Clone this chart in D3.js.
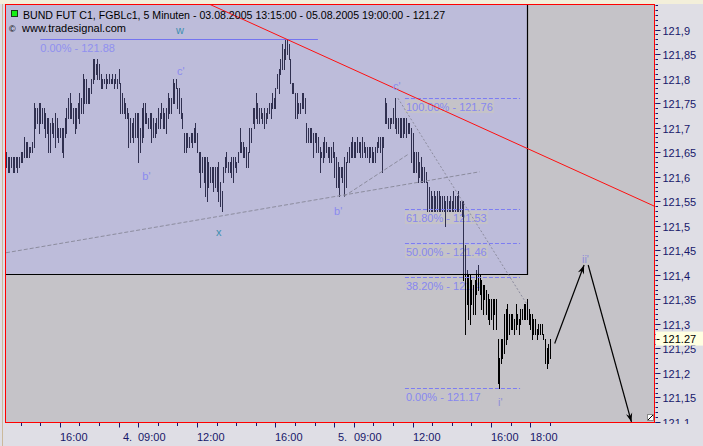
<!DOCTYPE html>
<html><head><meta charset="utf-8">
<script src="https://cdn.jsdelivr.net/npm/d3@7/dist/d3.min.js"></script>
<style>
html,body{margin:0;padding:0;background:#dfdee5;overflow:hidden;}
svg{display:block;font-family:"Liberation Sans",Arial,sans-serif;}
</style></head><body>
<svg id="c" width="703" height="446"></svg>
<script>
// ---- data: 5-minute bars, BUND FUT, 03.08.2005 13:15 - 05.08.2005 19:00 ----
const highs = [
121.65,121.64,121.64,121.64,121.64,121.64,121.64,121.64,121.64,121.65,
121.65,121.68,121.67,121.67,121.66,121.66,121.67,121.75,121.74,121.74,
121.75,121.75,121.74,121.74,121.73,121.72,121.72,121.71,121.72,121.71,
121.73,121.72,121.70,121.70,121.70,121.70,121.72,121.74,121.76,121.77,
121.75,121.74,121.74,121.74,121.75,121.77,121.76,121.81,121.80,121.80,
121.78,121.78,121.80,121.84,121.84,121.83,121.84,121.83,121.81,121.80,
121.80,121.81,121.80,121.81,121.80,121.81,121.80,121.81,121.80,121.82,
121.79,121.77,121.76,121.75,121.74,121.73,121.72,121.71,121.72,121.73,
121.73,121.73,121.70,121.74,121.75,121.75,121.73,121.72,121.73,121.73,
121.72,121.71,121.72,121.74,121.73,121.75,121.74,121.73,121.74,121.77,
121.76,121.76,121.80,121.79,121.80,121.78,121.78,121.76,121.73,121.69,
121.69,121.69,121.68,121.69,121.69,121.70,121.71,121.69,121.65,121.65,
121.64,121.64,121.64,121.64,121.63,121.62,121.62,121.62,121.62,121.62,
121.63,121.59,121.57,121.62,121.64,121.65,121.63,121.63,121.64,121.64,
121.64,121.63,121.65,121.70,121.67,121.67,121.66,121.66,121.65,121.70,
121.70,121.74,121.74,121.77,121.75,121.74,121.74,121.73,121.74,121.73,
121.74,121.75,121.75,121.77,121.76,121.78,121.81,121.82,121.84,121.87,
121.86,121.88,121.88,121.87,121.84,121.79,121.79,121.77,121.77,121.75,
121.75,121.77,121.77,121.76,121.71,121.70,121.70,121.70,121.69,121.69,
121.69,121.68,121.66,121.65,121.67,121.68,121.67,121.66,121.66,121.66,
121.67,121.65,121.64,121.63,121.62,121.62,121.62,121.64,121.63,121.65,
121.66,121.67,121.68,121.67,121.67,121.68,121.67,121.67,121.68,121.67,
121.66,121.66,121.66,121.66,121.66,121.65,121.66,121.67,121.68,121.68,
121.68,121.68,121.76,121.75,121.72,121.72,121.72,121.74,121.76,121.72,
121.72,121.72,121.72,121.72,121.72,121.72,121.71,121.71,121.70,121.69,
121.65,121.65,121.65,121.63,121.64,121.62,121.62,121.61,121.59,121.58,
121.57,121.56,121.57,121.56,121.57,121.57,121.56,121.56,121.56,121.55,
121.56,121.55,121.56,121.55,121.57,121.56,121.56,121.57,121.55,121.55,
121.55,121.46,121.41,121.40,121.40,121.39,121.38,121.39,121.41,121.42,
121.40,121.39,121.38,121.38,121.37,121.36,121.35,121.35,121.35,121.35,
121.35,121.27,121.23,121.27,121.27,121.32,121.33,121.34,121.32,121.32,
121.32,121.31,121.34,121.32,121.31,121.33,121.33,121.34,121.34,121.35,
121.33,121.32,121.32,121.31,121.31,121.29,121.30,121.30,121.30,121.28,
121.27,121.25,121.26,121.27];
const lows = [
121.62,121.61,121.61,121.62,121.61,121.61,121.62,121.61,121.62,121.63,
121.63,121.64,121.64,121.64,121.64,121.65,121.65,121.66,121.70,121.71,
121.69,121.71,121.71,121.70,121.68,121.69,121.65,121.65,121.69,121.68,
121.66,121.68,121.67,121.68,121.65,121.64,121.68,121.69,121.72,121.72,
121.72,121.71,121.69,121.70,121.72,121.71,121.73,121.73,121.75,121.75,
121.75,121.75,121.77,121.79,121.80,121.81,121.80,121.80,121.78,121.78,
121.79,121.78,121.79,121.79,121.79,121.79,121.78,121.79,121.78,121.79,
121.73,121.73,121.73,121.72,121.72,121.66,121.67,121.68,121.67,121.68,
121.68,121.63,121.65,121.67,121.68,121.71,121.71,121.70,121.70,121.67,
121.68,121.68,121.69,121.70,121.70,121.72,121.70,121.70,121.69,121.72,
121.73,121.73,121.75,121.75,121.78,121.74,121.73,121.72,121.70,121.65,
121.65,121.66,121.66,121.67,121.66,121.67,121.67,121.65,121.61,121.58,
121.61,121.59,121.56,121.55,121.58,121.59,121.59,121.57,121.58,121.57,
121.55,121.54,121.53,121.59,121.61,121.62,121.61,121.61,121.60,121.59,
121.62,121.61,121.63,121.65,121.65,121.64,121.64,121.62,121.62,121.65,
121.67,121.71,121.70,121.72,121.71,121.71,121.72,121.71,121.70,121.71,
121.72,121.73,121.72,121.74,121.74,121.74,121.78,121.77,121.81,121.82,
121.82,121.84,121.85,121.84,121.79,121.77,121.77,121.72,121.72,121.73,
121.73,121.74,121.74,121.73,121.67,121.67,121.67,121.67,121.64,121.67,
121.65,121.65,121.61,121.64,121.63,121.64,121.65,121.64,121.63,121.63,
121.64,121.60,121.58,121.58,121.56,121.60,121.59,121.56,121.58,121.63,
121.63,121.64,121.64,121.64,121.64,121.65,121.65,121.64,121.64,121.65,
121.64,121.64,121.63,121.64,121.63,121.63,121.63,121.65,121.66,121.65,
121.61,121.66,121.71,121.71,121.70,121.70,121.71,121.71,121.70,121.69,
121.69,121.68,121.68,121.68,121.69,121.68,121.69,121.69,121.63,121.61,
121.61,121.61,121.59,121.60,121.59,121.59,121.59,121.59,121.53,121.53,
121.53,121.53,121.53,121.53,121.53,121.53,121.53,121.53,121.53,121.50,
121.53,121.53,121.53,121.53,121.53,121.53,121.53,121.53,121.53,121.52,
121.39,121.28,121.34,121.31,121.30,121.34,121.32,121.32,121.36,121.37,
121.36,121.33,121.32,121.35,121.32,121.31,121.30,121.31,121.29,121.32,
121.29,121.18,121.17,121.22,121.23,121.24,121.26,121.27,121.28,121.29,
121.29,121.28,121.29,121.30,121.28,121.30,121.31,121.31,121.31,121.31,
121.30,121.29,121.27,121.28,121.28,121.27,121.28,121.28,121.28,121.27,
121.22,121.21,121.22,121.23];

const titleText = "BUND FUT C1, FGBLc1, 5 Minuten - 03.08.2005 13:15:00 - 05.08.2005 19:00:00 - 121.27";
const copyrightText = "www.tradesignal.com";
const lastPrice = 121.27;
const lastPriceLabel = "121.27";

// trading sessions (hours), bar index where each session starts
const sessionDays  = ["3.", "4.", "5."];
const sessionStart = [13.25, 8, 8];
const sessionEnd   = [19, 19, 19];
const sessionIdx0  = [0, 69, 201];
// labelled time ticks: session, hour, label
const timeTickSession = [0, 1, 1, 1, 2, 2, 2, 2];
const timeTickHour    = [16, 9, 12, 16, 9, 12, 16, 18];
const timeTickLabel   = ["16:00","09:00","12:00","16:00","09:00","12:00","16:00","18:00"];

const yTickValues = [121.1,121.15,121.2,121.25,121.3,121.35,121.4,121.45,121.5,121.55,121.6,121.65,121.7,121.75,121.8,121.85,121.9];
const yTickLabels = ["121,1","121,15","121,2","121,25","121,3","121,35","121,4","121,45","121,5","121,55","121,6","121,65","121,7","121,75","121,8","121,85","121,9"];

// Fibonacci retracement c' -> i'
const fibHigh = 121.76, fibLow = 121.17;
const fibRatios = [1, 0.618, 0.5, 0.382, 0];
const fibLabels = ["100.00% - 121.76","61.80% - 121.53","50.00% - 121.46","38.20% - 121.4","0.00% - 121.17"];
const fibFrom = 244.3, fibTo = 314.8;
const wLevel = 121.88, wLevelLabel = "0.00% - 121.88", wFrom = 21, wTo = 191;

// drawing objects (bar index, price)
const highlightBox = {i0: -0.6, i1: 319, p0: 121.402, p1: 121.95};
const redTrendI = [172, 397], redTrendP = [121.88, 121.54];
const grayTrend1I = [0, 290],   grayTrend1P = [121.445, 121.61];
const grayTrend2I = [207, 246], grayTrend2P = [121.56, 121.645];
const grayTrend3I = [240, 319], grayTrend3P = [121.76, 121.34];
const arrowUpI = [336, 354],     arrowUpP = [121.26, 121.42];
const arrowDownI = [356.5, 383], arrowDownP = [121.42, 121.10];

const waveText  = ["w","c'","b'","x","b'","c'","ii'","i'"];
const waveI     = [104.1,104.7,83.5,128.6,200.9,237,352.7,301.3];
const waveP     = [121.891,121.807,121.593,121.479,121.522,121.777,121.424,121.133];
const waveColor = ["#3f8fb0","#8b8bef","#8b8bef","#3f8fb0","#8b8bef","#8b8bef","#8e8ed8","#8e8ed8"];

// ---- layout ----
const PL = 5.5, PR = 654.5, PT = 4.5, PB = 422.5;
const x = d3.scaleLinear().domain([0, 333]).range([6, 549.8]);
const y = d3.scaleLinear().domain([121.1, 121.95]).range([422, 5]);

const svg = d3.select("#c");
const defs = svg.append("defs");
defs.append("clipPath").attr("id","plotClip").append("rect")
  .attr("x", PL+0.5).attr("y", PT+0.5).attr("width", PR-PL-1).attr("height", PB-PT-1);
defs.append("clipPath").attr("id","boxClip").append("rect")
  .attr("x", x(highlightBox.i0)).attr("y", y(highlightBox.p1))
  .attr("width", x(highlightBox.i1)-x(highlightBox.i0)).attr("height", y(highlightBox.p0)-y(highlightBox.p1));
defs.append("clipPath").attr("id","axisClip").append("rect")
  .attr("x", 0).attr("y", 0).attr("width", 703).attr("height", 424);
defs.append("marker").attr("id","arr").attr("viewBox","-10 -5 12 10")
  .attr("refX",0).attr("refY",0).attr("markerWidth",12).attr("markerHeight",10)
  .attr("markerUnits","userSpaceOnUse").attr("orient","auto")
  .append("path").attr("d","M0,0 L-9,-3.2 L-6,0 L-9,3.2 Z").attr("fill","#000");

// window chrome
svg.append("rect").attr("x",0).attr("y",0).attr("width",703).attr("height",446).attr("fill","#dfdee5");
svg.append("rect").attr("x",0).attr("y",0).attr("width",703).attr("height",4).attr("fill","#f3efda");
svg.append("line").attr("x1",2.5).attr("x2",2.5).attr("y1",4).attr("y2",446).attr("stroke","#cbb99c");

// plot background
svg.append("rect").attr("x",PL).attr("y",PT).attr("width",PR-PL).attr("height",PB-PT).attr("fill","#c5c3c8");

const plot = svg.append("g").attr("clip-path","url(#plotClip)");

// highlight box
const bx0 = x(highlightBox.i0), bx1 = x(highlightBox.i1), by0 = y(highlightBox.p1), by1 = y(highlightBox.p0);
plot.append("rect").attr("x",bx0).attr("y",by0).attr("width",bx1-bx0).attr("height",by1-by0).attr("fill","#bdbcda");

// fib labels (with background)
const fibG = plot.append("g").style("font-size","11px");
fibRatios.forEach((r,k)=>{
  const ly = Math.round(y(fibLow + r*(fibHigh-fibLow)));
  const t = fibG.append("text").attr("x", x(fibFrom)+1).attr("y", ly+13).attr("fill","#8787f0").text(fibLabels[k]);
  const w = t.node().getComputedTextLength();
  fibG.insert("rect","text").attr("x", x(fibFrom)).attr("y", ly+2).attr("width", w+2).attr("height", 13).attr("fill","#c5c3c8");
});
plot.append("text").attr("x", x(wFrom)).attr("y", Math.round(y(wLevel))+12.5)
  .attr("fill","#9090ef").style("font-size","11px").text(wLevelLabel);

// bars (high-low lines)
const idx = d3.range(highs.length);
function drawBars(g, color){
  g.selectAll("rect").data(idx).join("rect")
    .attr("x", i => Math.round(x(i)) - 0.5)
    .attr("y", i => Math.round(y(highs[i])))
    .attr("width", 1.3)
    .attr("height", i => Math.max(1, Math.round(y(lows[i])) - Math.round(y(highs[i])) + 1))
    .attr("fill", color).attr("shape-rendering","crispEdges");
}
drawBars(plot.append("g"), "#000");
drawBars(plot.append("g").attr("clip-path","url(#boxClip)"), "#303050");

// box border (right, bottom)
plot.append("path").attr("d", `M${Math.round(bx1)+0.5},${PT} V${Math.round(by1)+0.5} H${PL}`)
  .attr("fill","none").attr("stroke","#000").attr("stroke-width",1.2);

// horizontal fib lines
fibRatios.forEach(r=>{
  const ly = Math.round(y(fibLow + r*(fibHigh-fibLow))) + 0.5;
  plot.append("line").attr("x1", x(fibFrom)).attr("x2", x(fibTo)).attr("y1", ly).attr("y2", ly)
    .attr("stroke","#7d7df2").attr("stroke-dasharray","4,2");
});
plot.append("line").attr("x1", x(wFrom)).attr("x2", x(wTo))
  .attr("y1", Math.round(y(wLevel))+0.5).attr("y2", Math.round(y(wLevel))+0.5).attr("stroke","#7474f0");

// gray dashed trend lines
[[grayTrend1I,grayTrend1P,"4,2"],[grayTrend2I,grayTrend2P,"4,2"],[grayTrend3I,grayTrend3P,"2,2"]].forEach(([I,P,da])=>{
  plot.append("line").attr("x1",x(I[0])).attr("y1",y(P[0])).attr("x2",x(I[1])).attr("y2",y(P[1]))
    .attr("stroke","#8c8c9e").attr("stroke-width",1).attr("stroke-dasharray",da);
});

// red trend line (extended to the left)
const slope = (redTrendP[1]-redTrendP[0])/(redTrendI[1]-redTrendI[0]);
const rI0 = 110;
plot.append("line").attr("x1",x(rI0)).attr("y1",y(redTrendP[0]+slope*(rI0-redTrendI[0])))
  .attr("x2",x(redTrendI[1])).attr("y2",y(redTrendP[1])).attr("stroke","#ff1010").attr("stroke-width",1);

// projection arrows
[[arrowUpI,arrowUpP],[arrowDownI,arrowDownP]].forEach(([I,P])=>{
  plot.append("line").attr("x1",x(I[0])).attr("y1",y(P[0])).attr("x2",x(I[1])).attr("y2",y(P[1]))
    .attr("stroke","#000").attr("stroke-width",1.2).attr("marker-end","url(#arr)");
});

// wave labels
waveText.forEach((t,k)=>{
  plot.append("text").attr("x",x(waveI[k])).attr("y",y(waveP[k])).attr("fill",waveColor[k])
    .style("font-size","11px").text(t);
});

// title
svg.append("rect").attr("x",11.5).attr("y",10.5).attr("width",6).attr("height",6).attr("fill","#14f014").attr("stroke","#1a3a1a");
svg.append("text").attr("x",23).attr("y",19).attr("fill","#000").style("font-size","10.6px").text(titleText);
svg.append("text").attr("x",9).attr("y",31.5).attr("fill","#000").style("font-size","9px").text("\u00A9");
svg.append("text").attr("x",22).attr("y",32).attr("fill","#000").style("font-size","11px").text(copyrightText);

// plot border
svg.append("rect").attr("x",PL).attr("y",PT).attr("width",PR-PL).attr("height",PB-PT)
  .attr("fill","none").attr("stroke","#ff0000").attr("stroke-width",1);

// corner icon
svg.append("rect").attr("x",647.5).attr("y",414.5).attr("width",6).attr("height",6).attr("fill","#fff").attr("stroke","#8a8a8a");
svg.append("line").attr("x1",648).attr("y1",420).attr("x2",653).attr("y2",415).attr("stroke","#000");

// ---- y axis ----
const axisColor = "#17176a";
const yAx = svg.append("g").attr("clip-path","url(#axisClip)");
d3.range(0, 86).map(k => 121.10 + k*0.01).forEach(v=>{
  const yy = Math.round(y(v)) + 0.5;
  yAx.append("line").attr("x1",PR+1).attr("x2",PR+3.5).attr("y1",yy).attr("y2",yy).attr("stroke",axisColor);
});
yTickValues.forEach((v,k)=>{
  const yy = Math.round(y(v)) + 0.5;
  yAx.append("line").attr("x1",PR+1).attr("x2",PR+6).attr("y1",yy).attr("y2",yy).attr("stroke",axisColor);
  yAx.append("text").attr("x",PR+8).attr("y",yy+4).attr("fill",axisColor).style("font-size","11px").text(yTickLabels[k]);
});
// last price marker
const ly = y(lastPrice);
svg.append("rect").attr("x",PR+1.5).attr("y",ly-7).attr("width",703-PR).attr("height",14).attr("fill","#ffffe1");
svg.append("line").attr("x1",PR+2).attr("x2",PR+5).attr("y1",Math.round(ly)+0.5).attr("y2",Math.round(ly)+0.5).attr("stroke","#000");
svg.append("text").attr("x",PR+8).attr("y",ly+4).attr("fill","#000").style("font-size","11px").text(lastPriceLabel);

// ---- x axis ----
const xAx = svg.append("g");
const hourIdx = (s,h) => sessionIdx0[s] + (h - sessionStart[s])*12;
const tickSet = new Map();
sessionDays.forEach((d,s)=>{
  for(let h=Math.ceil(sessionStart[s]); h<=sessionEnd[s]; h++){
    const ii = hourIdx(s,h);
    if(!tickSet.has(ii)) tickSet.set(ii, {major:false});
  }
  if(s>0) tickSet.set(sessionIdx0[s], {major:true});
});
timeTickSession.forEach((s,k)=>{ tickSet.set(hourIdx(s,timeTickHour[k]), {major:true}); });
tickSet.forEach((o,ii)=>{
  const xx = Math.round(x(ii)) + 0.5;
  if(xx < PL || xx > PR) return;
  xAx.append("line").attr("x1",xx).attr("x2",xx).attr("y1",PB+0.5).attr("y2",PB+(o.major?5:3.5)).attr("stroke",axisColor);
});
timeTickSession.forEach((s,k)=>{
  const xx = Math.round(x(hourIdx(s,timeTickHour[k])));
  xAx.append("text").attr("x",xx).attr("y",441).attr("fill",axisColor).style("font-size","11px").text(timeTickLabel[k]);
});
sessionDays.forEach((d,s)=>{
  if(s===0) return;
  xAx.append("text").attr("x",Math.round(x(sessionIdx0[s]))+4).attr("y",441).attr("fill",axisColor).style("font-size","11px").text(d);
});
</script>
</body></html>
